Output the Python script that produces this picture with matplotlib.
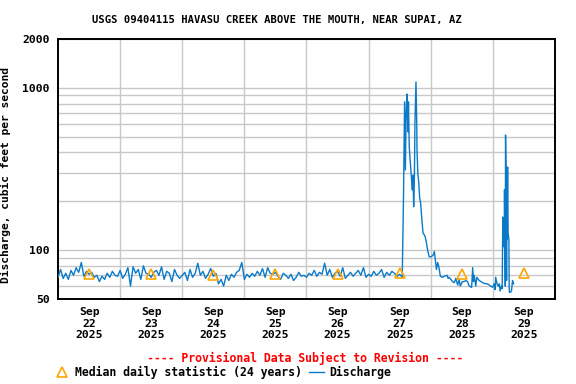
import matplotlib
matplotlib.use('Agg')
import matplotlib.pyplot as plt
from matplotlib.lines import Line2D
from matplotlib.ticker import LogLocator, FixedLocator, FixedFormatter, NullFormatter

# Discharge, hourly base flow from Sep 22 00:00 (hours since start)
base_flow = [
    68, 76, 67, 72, 66, 75, 70, 78, 73, 84, 69, 74, 71, 73, 68, 70, 64, 69, 66, 72, 68, 74, 70, 69,
    75, 67, 71, 78, 60, 79, 72, 76, 66, 80, 72, 71, 68, 73, 75, 70, 79, 66, 74, 72, 64, 76, 70, 67,
    70, 73, 65, 76, 68, 72, 83, 70, 74, 67, 71, 77, 69, 72, 62, 66, 60, 70, 65, 71, 68, 73, 75, 84,
    66, 71, 68, 72, 69, 74, 70, 77, 68, 78, 72, 71, 73, 69, 66, 72, 70, 67, 71, 65, 68, 73, 69, 70,
    68, 72, 70, 75, 69, 73, 71, 83, 70, 76, 68, 72, 74, 69, 78, 67, 70, 73, 69, 72, 75, 70, 78, 68,
    71, 69, 74, 70, 72, 76, 68, 73, 70, 74, 72, 69, 71, 68,
]
base_hours = list(range(len(base_flow)))

# flood event and recession
event_hours = [133.5, 133.9, 134.2, 134.5, 134.8, 135.2, 135.4, 135.7, 136.3, 136.6, 136.9,
               137.2, 137.4, 137.7, 137.9, 138.3, 138.6, 138.7, 139.0, 139.4, 139.7, 140.1,
               140.5, 141.0, 141.8, 142.3, 142.8, 143.4, 144.1, 144.9, 145.4, 145.9, 146.2,
               146.7, 147.2, 147.7, 148.5, 149.2, 150.3, 150.7, 151.1, 151.8, 152.4, 153.1,
               153.7, 154.4, 155.0, 155.4, 156.2, 156.9, 157.6, 158.2, 158.9, 159.8, 160.2,
               160.5, 160.8, 161.4, 161.8, 162.7, 163.4, 164.0, 165.3, 165.9, 167.2, 167.9,
               168.5, 168.9, 169.1, 169.6, 170.1, 170.5, 170.8, 171.3, 171.6, 171.85, 172.1,
               172.4, 172.5, 172.8, 172.9, 173.1, 173.3, 173.4, 173.5, 173.7, 173.9, 174.2,
               174.3, 174.4, 174.8, 175.2, 175.6, 176.0]
event_flow = [228, 820, 312, 700, 916, 535, 820, 432, 312, 270, 235,
              290, 185, 290, 607, 1087, 600, 414, 299, 259, 212, 195,
              160, 128, 122, 112, 100, 91, 91, 93, 98, 84, 76,
              84, 78, 69, 68, 69, 70, 67, 68, 66, 64, 63,
              67, 61, 66, 60, 64, 64, 65, 64, 60, 59, 78,
              64, 70, 60, 68, 65, 64, 63, 62, 62, 60, 59,
              62, 57, 68, 62, 60, 62, 56, 60, 58, 160, 105,
              116, 235, 60, 512, 312, 65, 177, 116, 325, 128, 116,
              60, 55, 55, 56, 65, 62]

hours = base_hours + event_hours
flow = base_flow + event_flow

# median daily statistic, at noon of each day
median_hours = [12, 36, 60, 84, 108, 132, 156, 180]
median_flow = [71, 71, 70, 71, 71, 72, 71, 72]

day_labels = ['Sep\n22\n2025', 'Sep\n23\n2025', 'Sep\n24\n2025', 'Sep\n25\n2025',
              'Sep\n26\n2025', 'Sep\n27\n2025', 'Sep\n28\n2025', 'Sep\n29\n2025']

plt.rcParams['font.family'] = ['DejaVu Sans Mono']
plt.rcParams['font.weight'] = 'bold'

fig = plt.figure(figsize=(5.76, 3.84), dpi=100)
ax = fig.add_axes([0.1007, 0.2214, 0.8628, 0.677])

ax.plot(hours, flow, color='#0a7ac8', lw=1.0, zorder=3)
ax.plot(median_hours, median_flow, linestyle='none', marker='^', markersize=7.5,
        markerfacecolor='none', markeredgecolor='#ffa500', markeredgewidth=1.2, zorder=4)

ax.set_yscale('log')
ax.set_ylim(50, 2000)
ax.set_xlim(0, 192)

ax.yaxis.set_major_locator(FixedLocator([50, 100, 1000, 2000]))
ax.yaxis.set_major_formatter(FixedFormatter(['50', '100', '1000', '2000']))
ax.yaxis.set_minor_locator(LogLocator(base=10, subs=range(1, 10)))
ax.yaxis.set_minor_formatter(NullFormatter())

ax.set_xticks(median_hours)
ax.set_xticklabels(day_labels, fontsize=8.2, linespacing=1.15, fontweight='bold')
ax.set_xticks(range(24, 192, 24), minor=True)
for lab in ax.get_yticklabels():
    lab.set_fontweight('bold')

ax.tick_params(axis='both', which='both', length=0)
ax.tick_params(axis='x', pad=6)
ax.tick_params(axis='y', pad=6, labelsize=8.2)

ax.grid(True, which='minor', axis='both', color='#c8c8c8', lw=1.0, zorder=0)
ax.grid(True, which='major', axis='y', color='#c8c8c8', lw=1.0, zorder=0)
ax.grid(False, which='major', axis='x')
ax.set_axisbelow(True)

for s in ax.spines.values():
    s.set_linewidth(1.4)
    s.set_color('black')

ax.set_ylabel('Discharge, cubic feet per second', fontsize=8.1, fontweight='bold')
ax.yaxis.set_label_coords(-0.094, 0.477)
fig.text(0.481, 0.948, 'USGS 09404115 HAVASU CREEK ABOVE THE MOUTH, NEAR SUPAI, AZ',
         ha='center', va='center', fontsize=7.6, fontweight='bold')
fig.text(0.529, 0.067, '---- Provisional Data Subject to Revision ----',
         ha='center', va='center', fontsize=8.3, color='red', fontweight='bold')

handles = [Line2D([], [], linestyle='none', marker='^', markersize=7.5, markerfacecolor='none',
                  markeredgecolor='#ffa500', markeredgewidth=1.2),
           Line2D([], [], color='#0a7ac8', lw=1.0)]
fig.legend(handles, ['Median daily statistic (24 years)', 'Discharge'], loc='center left',
           bbox_to_anchor=(0.094, 0.031), ncol=2, frameon=False,
           prop={'size': 8.3, 'weight': 'bold'},
           handlelength=1.3, handletextpad=0.5, columnspacing=0.6, borderaxespad=0, borderpad=0)

fig.savefig('out.png', dpi=100)
